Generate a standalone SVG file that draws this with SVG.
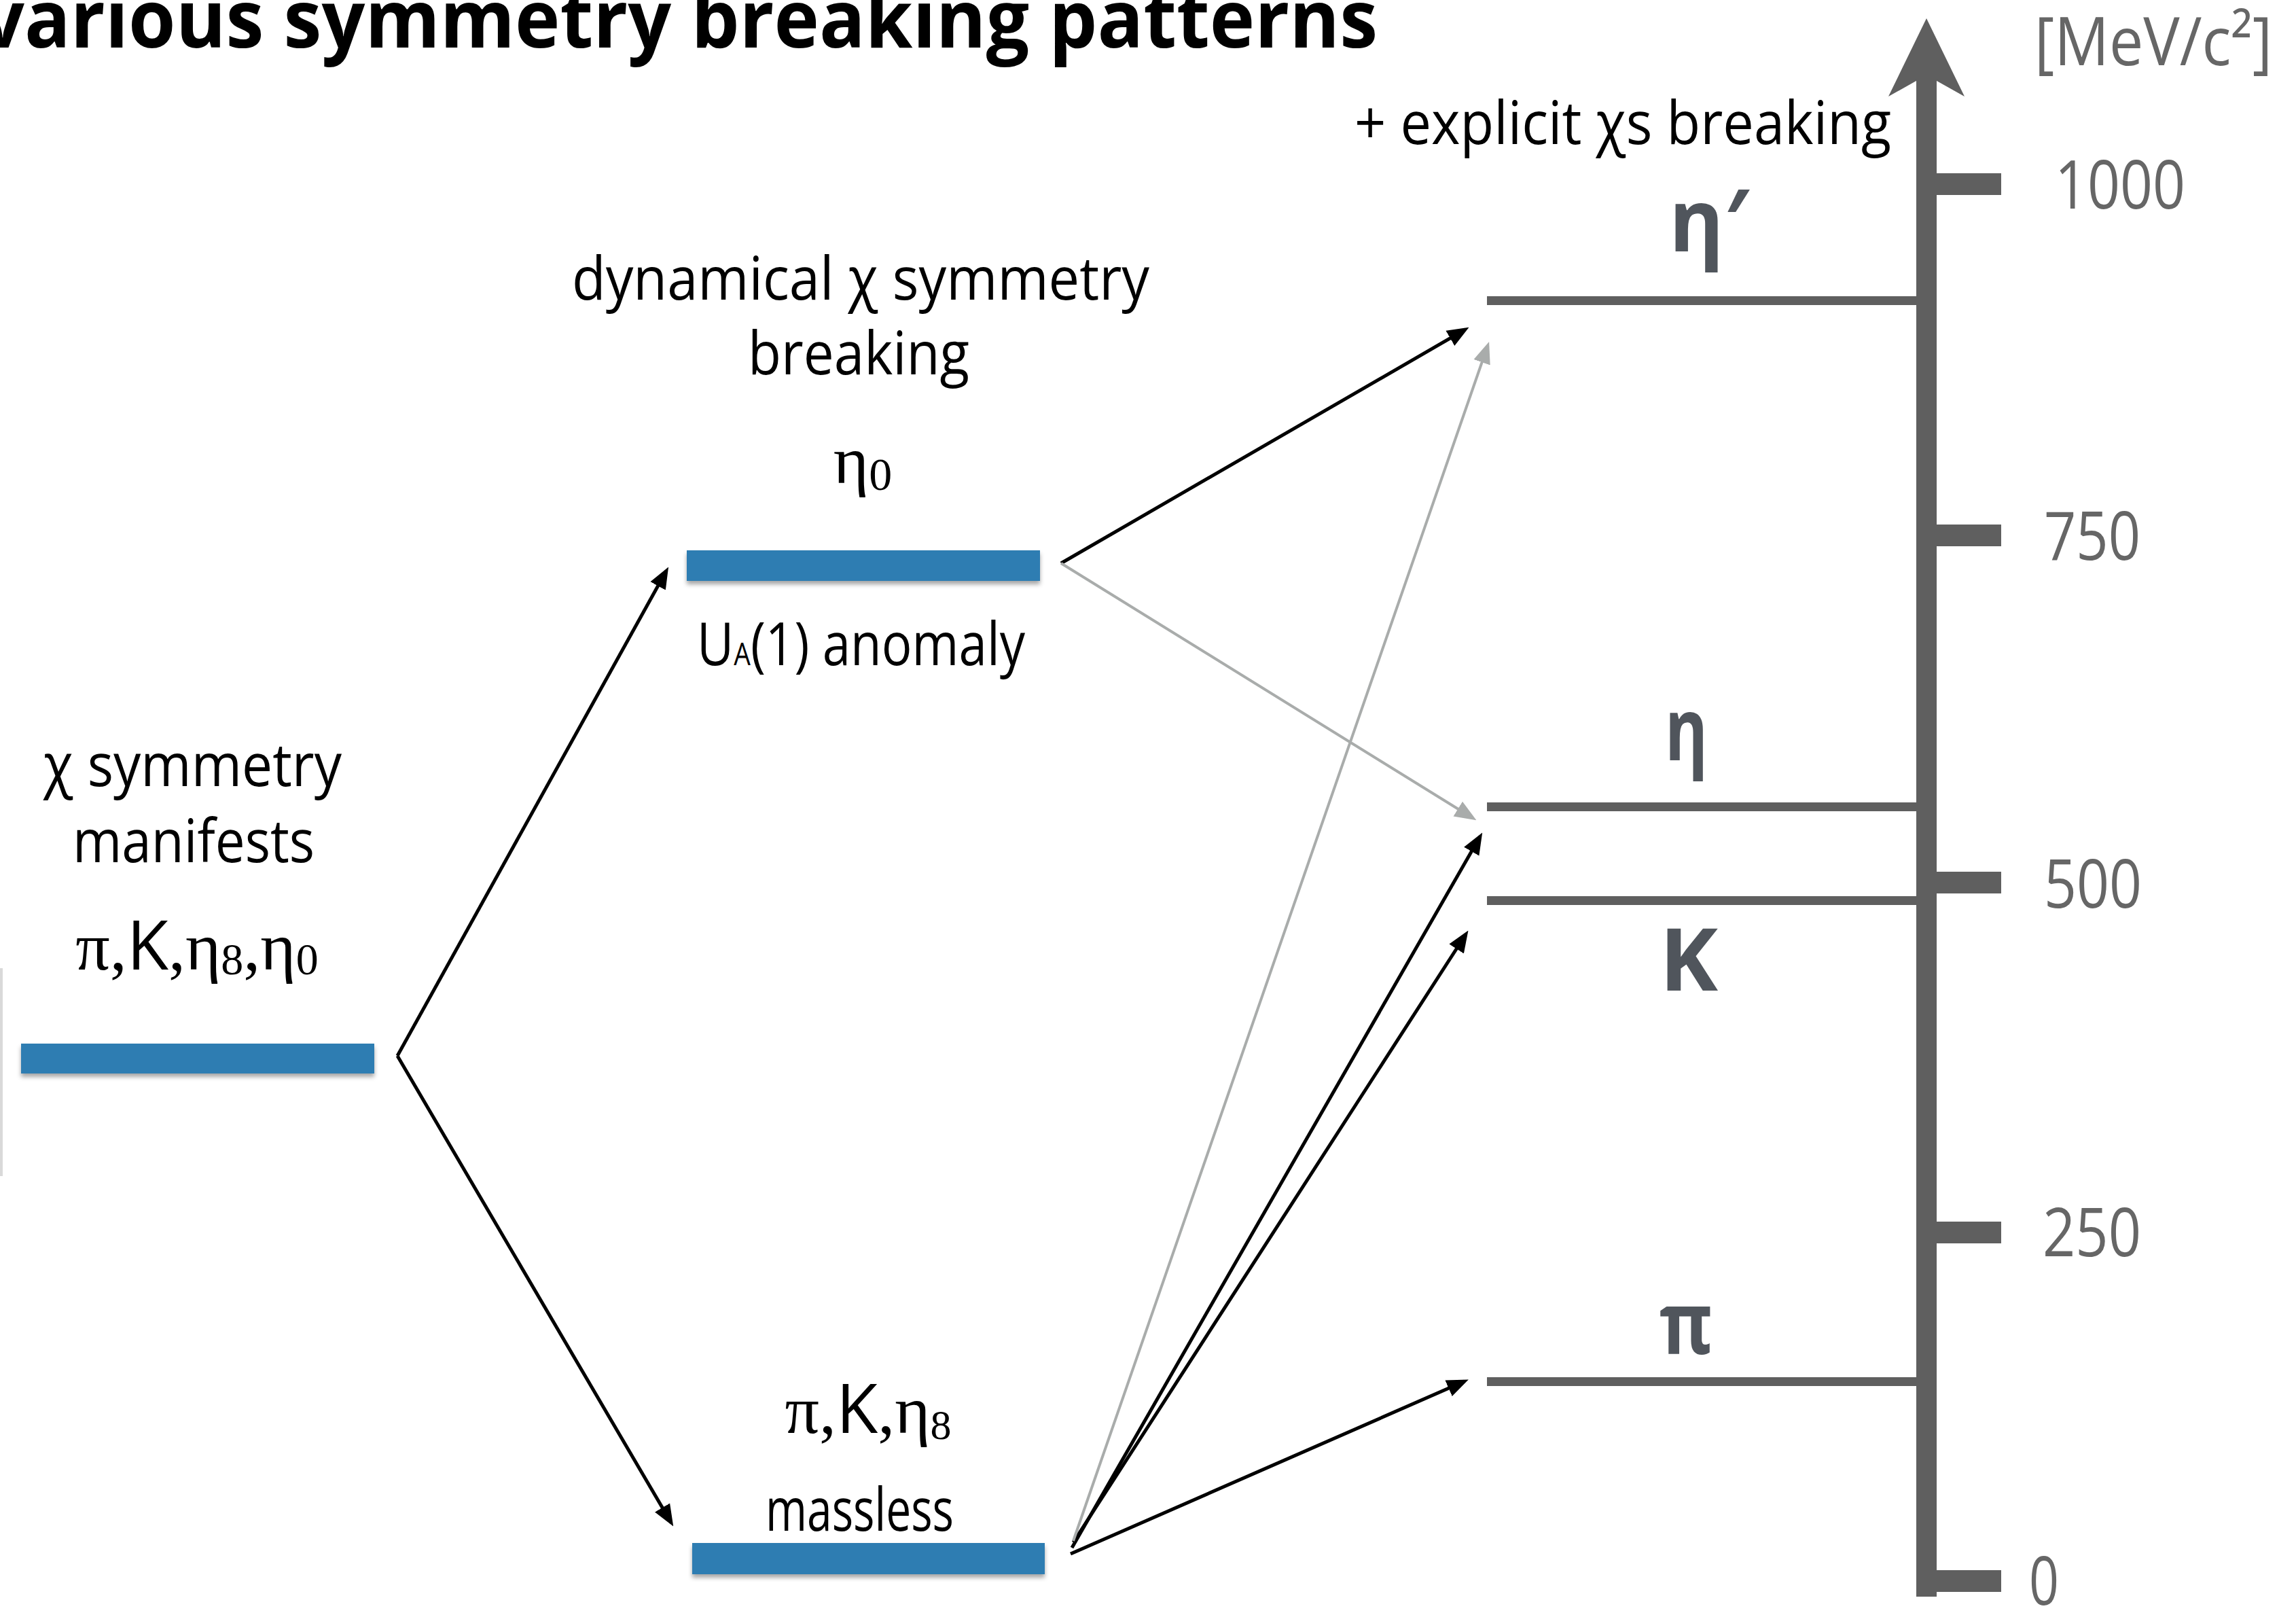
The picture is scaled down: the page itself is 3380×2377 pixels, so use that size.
<svg xmlns="http://www.w3.org/2000/svg" width="3380" height="2377" viewBox="0 0 3380 2377">
<style>
.sans{font-family:'Open Sans','Noto Sans','DejaVu Sans',sans-serif;}
.serif{font-family:'Liberation Serif','DejaVu Serif',serif;}
.lbl{font-family:'Open Sans','Noto Sans','DejaVu Sans',sans-serif;font-size:88px;fill:#000;}
.tick{font-family:'Open Sans','Noto Sans','DejaVu Sans',sans-serif;font-size:98px;fill:#666;}
.part{font-family:'Open Sans','Noto Sans','DejaVu Sans',sans-serif;font-size:128px;font-weight:700;fill:#50555c;}
.bar{fill:#2f7db2;filter:url(#sh);}
.lvl{fill:#5f5f5f;}
.ax{fill:#5f5f5f;}
.blk{stroke:#000;stroke-width:5;fill:none;marker-end:url(#ah);}
.gry{stroke:#a9acab;stroke-width:4;fill:none;marker-end:url(#ahg);}
</style>
<defs>
<filter id="sh" x="-5%" y="-30%" width="110%" height="190%">
<feDropShadow dx="0" dy="5" stdDeviation="3" flood-color="#000" flood-opacity="0.35"/>
</filter>
<marker id="ah" markerUnits="userSpaceOnUse" markerWidth="32" markerHeight="28" refX="24" refY="12" orient="auto" viewBox="0 0 30 24">
<path d="M0,0 L30,12 L0,24 Z" fill="#000"/>
</marker>
<marker id="ahg" markerUnits="userSpaceOnUse" markerWidth="32" markerHeight="28" refX="24" refY="12" orient="auto" viewBox="0 0 30 24">
<path d="M0,0 L30,12 L0,24 Z" fill="#a9acab"/>
</marker>
</defs>
<rect width="3380" height="2377" fill="#fff"/>

<text id="title" class="sans" x="-28" y="70" font-size="118" font-weight="700" textLength="2056" lengthAdjust="spacingAndGlyphs">various symmetry breaking patterns</text>

<rect x="0" y="1425" width="4" height="306" fill="#d9d9d9"/>

<g id="axis">
<rect class="ax" x="2821" y="118" width="30" height="2232"/>
<polygon class="ax" points="2836,27 2892,142 2851,119 2821,119 2780,142"/>
<rect class="ax" x="2851" y="255" width="95" height="32"/>
<rect class="ax" x="2851" y="772" width="95" height="32"/>
<rect class="ax" x="2851" y="1283" width="95" height="32"/>
<rect class="ax" x="2851" y="1798" width="95" height="32"/>
<rect class="ax" x="2851" y="2311" width="95" height="32"/>
<text class="tick" x="2995" y="96" font-size="84" textLength="350" lengthAdjust="spacingAndGlyphs">[MeV/c²]</text>
<text class="tick" x="3025" y="307" textLength="192" lengthAdjust="spacingAndGlyphs">1000</text>
<text class="tick" x="3009" y="824" textLength="142" lengthAdjust="spacingAndGlyphs">750</text>
<text class="tick" x="3009" y="1336" textLength="144" lengthAdjust="spacingAndGlyphs">500</text>
<text class="tick" x="3007" y="1849" textLength="145" lengthAdjust="spacingAndGlyphs">250</text>
<text class="tick" x="2987" y="2362" textLength="44" lengthAdjust="spacingAndGlyphs">0</text>
</g>

<text id="explicit" class="lbl" x="1994" y="212" font-size="86" textLength="790" lengthAdjust="spacingAndGlyphs">+ explicit χs breaking</text>

<g id="node-symmetric">
<text class="lbl" x="64" y="1157" textLength="439" lengthAdjust="spacingAndGlyphs">χ symmetry</text>
<text class="lbl" x="107" y="1269" textLength="356" lengthAdjust="spacingAndGlyphs">manifests</text>
<text x="290" y="1427" text-anchor="middle" fill="#000"><tspan class="serif" font-size="100">π,</tspan><tspan class="sans" font-size="100">K</tspan><tspan class="serif" font-size="100">,η</tspan><tspan class="serif" font-size="66" dy="7">8</tspan><tspan class="serif" font-size="100" dy="-7">,η</tspan><tspan class="serif" font-size="66" dy="7">0</tspan></text>
<rect class="bar" x="31" y="1536" width="520" height="44"/>
</g>

<g id="node-eta0">
<text class="lbl" x="842" y="441" textLength="850" lengthAdjust="spacingAndGlyphs">dynamical χ symmetry</text>
<text class="lbl" x="1101" y="551" textLength="326" lengthAdjust="spacingAndGlyphs">breaking</text>
<text x="1270" y="711" text-anchor="middle" fill="#000"><tspan class="serif" font-size="100">η</tspan><tspan class="serif" font-size="68" dy="10">0</tspan></text>
<rect class="bar" x="1011" y="810" width="520" height="45"/>
<text class="lbl" x="1026" y="979" font-size="80" textLength="483" lengthAdjust="spacingAndGlyphs">U<tspan font-size="46">A</tspan>(1) anomaly</text>
</g>

<g id="node-massless">
<text x="1278" y="2109" text-anchor="middle" fill="#000"><tspan class="serif" font-size="100">π,</tspan><tspan class="sans" font-size="100">K</tspan><tspan class="serif" font-size="100">,η</tspan><tspan class="serif" font-size="62" dy="9">8</tspan></text>
<text class="lbl" x="1127" y="2253" font-size="72" textLength="277" lengthAdjust="spacingAndGlyphs">massless</text>
<rect class="bar" x="1019" y="2271" width="519" height="46"/>
</g>

<g id="level-etaprime">
<rect class="lvl" x="2189" y="436" width="632" height="13"/>
<text class="part" x="2457" y="370" textLength="118" lengthAdjust="spacingAndGlyphs">η′</text>
</g>
<g id="level-eta">
<rect class="lvl" x="2189" y="1181" width="632" height="13"/>
<text class="part" x="2451" y="1119" textLength="63" lengthAdjust="spacingAndGlyphs">η</text>
</g>
<g id="level-K">
<rect class="lvl" x="2189" y="1319" width="632" height="13"/>
<text class="part" x="2443" y="1458" textLength="86" lengthAdjust="spacingAndGlyphs">K</text>
</g>
<g id="level-pi">
<rect class="lvl" x="2189" y="2027" width="632" height="13"/>
<text class="part" x="2443" y="1993" textLength="78" lengthAdjust="spacingAndGlyphs">π</text>
</g>

<g id="connectors">
<path class="blk" d="M585,1554 L981,840"/>
<path class="blk" d="M585,1554 L988,2241"/>
<path class="blk" d="M1562,829 L2157,485"/>
<path class="gry" d="M1562,829 L2168,1204"/>
<path class="blk" d="M1578,2278 L2179,1231"/>
<path class="blk" d="M1580,2270 L2158,1375"/>
<path class="gry" d="M1580,2268 L2190,509"/>
<path class="blk" d="M1576,2287 L2156,2033"/>
</g>
</svg>
